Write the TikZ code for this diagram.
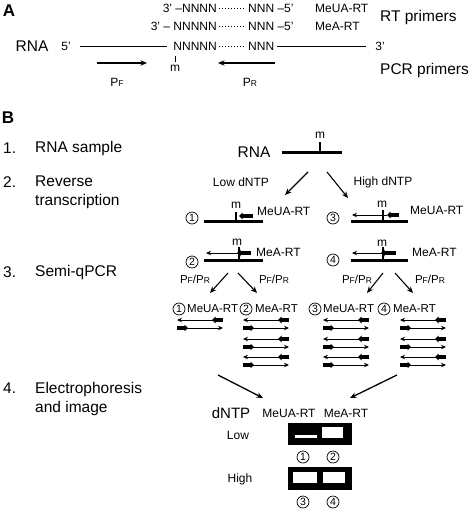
\documentclass[tikz,border=0pt]{standalone}
\usepackage{fontspec}
\setmainfont{Liberation Sans}
\usetikzlibrary{arrows.meta}
\newcommand{\pF}{P{\fontsize{8.5}{9}\selectfont F}}
\newcommand{\pR}{P{\fontsize{8.5}{9}\selectfont R}}
% one PCR product: reverse strand on top, forward strand below
\newcommand{\ampl}[2]{%
  \draw[cdna] ({#1+46},#2) -- (#1,#2);
  \draw[primer] ({#1+46},#2) -- ({#1+35},#2);
  \draw[primer] (#1,{#2+8}) -- ({#1+11},{#2+8});
  \draw[cdna] (#1,{#2+8}) -- ({#1+46},{#2+8});}

\begin{document}
\begin{tikzpicture}[x=1pt,y=-1pt,
      >={Stealth[length=6.5pt,width=5.5pt]},
      big/.style={font=\fontsize{15.5}{19}\selectfont,inner sep=0pt},
      sm/.style={font=\fontsize{12}{14}\selectfont,inner sep=0pt},
      lab/.style={font=\fontsize{11.5}{13}\selectfont,inner sep=0pt},
      num/.style={circle,draw,line width=0.7pt,inner sep=0pt,
        minimum size=12pt,font=\fontsize{10.5}{11}\selectfont},
      strand/.style={line width=3pt},
      site/.style={line width=2pt},
      primer/.style={line width=3.4pt,-{Triangle[length=3.5pt,width=6.5pt]}},
      cdna/.style={line width=1pt,-{Stealth[length=5pt,width=4.5pt]}},
      flow/.style={line width=1.1pt,->}
    ]
    \useasboundingbox (0,0) rectangle (474,514);
    % panel A: RT primers
    \node[font=\bfseries\fontsize{17}{17}\selectfont,inner sep=0pt] (A) at (9,11) {A};
    \node[sm,anchor=east] (ua1) at (217,8) {3’ –NNNN};
    \node[sm,anchor=west] (ua2) at (248,8) {NNN –5’};
    \node[sm,anchor=east] (ma1) at (217,26) {3’ – NNNNN};
    \node[sm,anchor=west] (ma2) at (248,26) {NNN –5’};
    \node[sm,anchor=west] (uaname) at (315,8) {MeUA-RT};
    \node[sm,anchor=west] (maname) at (315,26) {MeA-RT};
    \node[big,anchor=west] (rtp) at (380,17) {RT primers};
    \draw[dotted,line width=1pt,shorten <=2pt,shorten >=2pt] (ua1.east) -- (ua2.west);
    \draw[dotted,line width=1pt,shorten <=2pt,shorten >=2pt] (ma1.east) -- (ma2.west);
    % panel A: RNA and PCR primers
    \node[big] (rnaA) at (32,46) {RNA};
    \node[sm] (five) at (66,46) {5’};
    \node[sm,anchor=east] (n1) at (217,46) {NNNNN};
    \node[sm,anchor=west] (n2) at (248,46) {NNN};
    \node[sm] (three) at (380,46) {3’};
    \draw[dotted,line width=1pt,shorten <=2pt,shorten >=2pt] (n1.east) -- (n2.west);
    \draw[line width=0.9pt,shorten <=9pt,shorten >=6pt] (five.east) -- (n1.west);
    \draw[line width=0.9pt,shorten <=3pt,shorten >=9pt] (n2.east) -- (three.west);
    \draw[line width=1pt] (175,56) -- (175,62);
    \node[sm] (mA) at (175,68) {m};
    \draw[line width=1.2pt,->] (97,63) -- (147,63);
    \draw[line width=1.2pt,->] (275,63) -- (218,63);
    \node[sm] (pfA) at (117,82) {\pF};
    \node[sm] (prA) at (250,82) {\pR};
    \node[big,anchor=west] (pcrp) at (380,70) {PCR primers};

    % panel B: steps
    \node[font=\bfseries\fontsize{17}{17}\selectfont,inner sep=0pt] (B) at (8,118) {B};
    \node[big,anchor=west] (s1) at (3,148) {1.};
    \node[big,anchor=west] (s1t) at (35,148) {RNA sample};
    \node[big,anchor=west] (s2) at (3,182) {2.};
    \node[big,anchor=north west,align=left] (s2t) at (35,176) {Reverse\\transcription};
    \node[big,anchor=west] (s3) at (3,272) {3.};
    \node[big,anchor=west] (s3t) at (35,272) {Semi-qPCR};
    \node[big,anchor=west] (s4) at (3,388) {4.};
    \node[big,anchor=north west,align=left] (s4t) at (35,382) {Electrophoresis\\and image};

    % row 1: RNA sample
    \node[big] (rnaB) at (254,152) {RNA};
    \draw[strand] (282,152) -- (342,152);
    \draw[site] (320,152) -- (320,142);
    \node[sm] (m0) at (320,135) {m};
    \coordinate (lowS) at (308,172);
    \coordinate (lowE) at (285,195);
    \coordinate (highS) at (327,172);
    \coordinate (highE) at (348,198);
    \draw[flow] (lowS) -- (lowE);
    \draw[flow] (highS) -- (highE);
    \node[sm] (low) at (241,182) {Low dNTP};
    \node[sm] (high) at (383,182) {High dNTP};

    % row 2: reverse transcription
    \node[num] (c1) at (192,218) {1};
    \draw[strand] (204,221) -- (263,221);
    \draw[site] (236,212) -- (236,221);
    \node[sm] (m1) at (236,205) {m};
    \draw[primer] (253,216) -- (239,216);
    \node[sm,anchor=west] (rt1) at (257,211) {MeUA-RT};
    \node[num] (c3) at (333,218) {3};
    \draw[strand] (351,221) -- (408,221);
    \draw[cdna] (387,215) -- (352,215);
    \draw[site] (383,210) -- (383,221);
    \node[sm] (m3) at (382,204) {m};
    \draw[primer] (399,215) -- (387,215);
    \node[sm,anchor=west] (rt3) at (410,210) {MeUA-RT};
    \node[num] (c2) at (192,262) {2};
    \draw[strand] (204,260) -- (263,260);
    \draw[cdna] (238,253) -- (206,253);
    \draw[primer] (251,253) -- (237,253);
    \draw[site] (239,247) -- (239,260);
    \node[sm] (m2) at (237,242) {m};
    \node[sm,anchor=west] (rt2) at (256,252) {MeA-RT};
    \node[num] (c4) at (333,260) {4};
    \draw[strand] (351,260) -- (408,260);
    \draw[cdna] (383,253) -- (352,253);
    \draw[primer] (396,253) -- (381,253);
    \draw[site] (383,247) -- (383,260);
    \node[sm] (m4) at (382,243) {m};
    \node[sm,anchor=west] (rt4) at (412,252) {MeA-RT};

    % row 3: semi-qPCR
    \coordinate (p1s) at (228,273);
    \coordinate (p1e) at (210,293);
    \coordinate (p2s) at (238,273);
    \coordinate (p2e) at (257,293);
    \coordinate (p3s) at (383,273);
    \coordinate (p3e) at (367,293);
    \coordinate (p4s) at (395,273);
    \coordinate (p4e) at (413,293);
    \draw[flow] (p1s) -- (p1e);
    \draw[flow] (p2s) -- (p2e);
    \draw[flow] (p3s) -- (p3e);
    \draw[flow] (p4s) -- (p4e);
    \node[lab] (pp1) at (195,279) {\pF/\pR};
    \node[lab] (pp2) at (274,279) {\pF/\pR};
    \node[lab] (pp3) at (357,279) {\pF/\pR};
    \node[lab] (pp4) at (430,279) {\pF/\pR};
    \node[num] (d1) at (179,309) {1};
    \node[lab,anchor=west] (pr1) at (187,309) {MeUA-RT};
    \node[num] (d2) at (246,309) {2};
    \node[lab,anchor=west] (pr2) at (255,309) {MeA-RT};
    \node[num] (d3) at (315,309) {3};
    \node[lab,anchor=west] (pr3) at (323,309) {MeUA-RT};
    \node[num] (d4) at (384,309) {4};
    \node[lab,anchor=west] (pr4) at (393,309) {MeA-RT};
    \ampl{177}{320}
    \ampl{243}{320}
    \ampl{243}{339}
    \ampl{243}{357}
    \ampl{323}{320}
    \ampl{323}{339}
    \ampl{323}{357}
    \ampl{400}{320}
    \ampl{400}{339}
    \ampl{400}{357}

    % row 4: gel image
    \coordinate (g1s) at (218,375);
    \coordinate (g1e) at (263,398);
    \coordinate (g2s) at (397,375);
    \coordinate (g2e) at (350,398);
    \draw[flow,line width=1.3pt] (g1s) -- (g1e);
    \draw[flow,line width=1.3pt] (g2s) -- (g2e);
    \node[font=\fontsize{15}{17}\selectfont,inner sep=0pt] (dntp) at (231,413) {dNTP};
    \node[sm] (lane1) at (289,413) {MeUA-RT};
    \node[sm] (lane2) at (346,413) {MeA-RT};
    \node[sm] (lowg) at (238,435) {Low};
    \fill (288,423) rectangle (352,445);
    \fill[white] (295,435) rectangle (317,437.5);
    \fill[white] (322,427) rectangle (343,438);
    \node[num] (e1) at (303,457) {1};
    \node[num] (e2) at (333,457) {2};
    \node[sm] (highg) at (240,479) {High};
    \fill (288,467) rectangle (352,490);
    \fill[white] (293,472) rectangle (317,483);
    \fill[white] (323,472) rectangle (345,483);
    \node[num] (e3) at (303,502) {3};
    \node[num] (e4) at (333,502) {4};
  \end{tikzpicture}
\end{document}
